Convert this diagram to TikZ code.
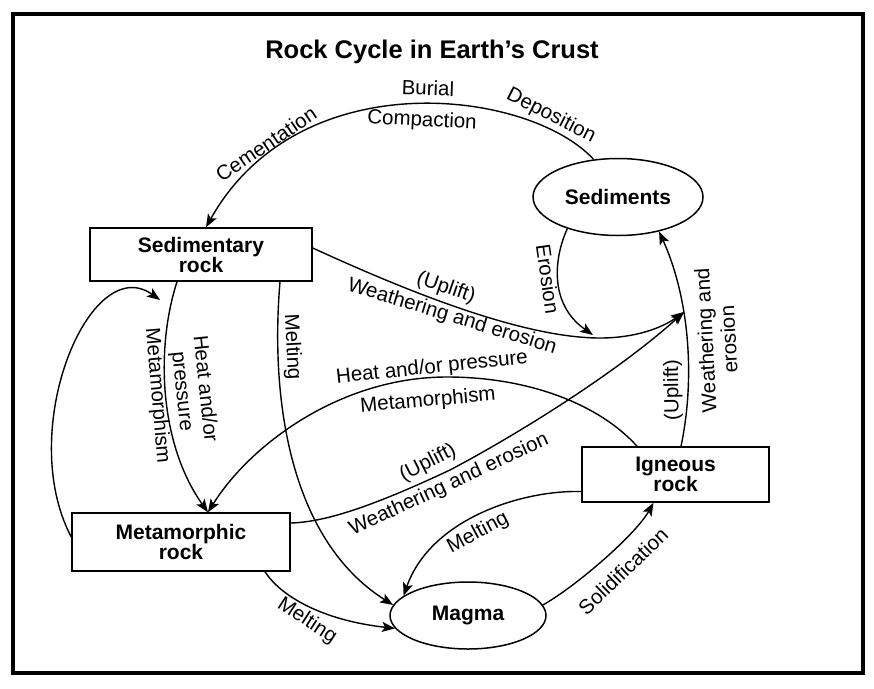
\documentclass[tikz,border=0pt]{standalone}
\usepackage{fontspec}
\setmainfont{Liberation Sans}
\usetikzlibrary{arrows.meta,shapes.geometric}
\begin{document}
\begin{tikzpicture}[x=1pt,y=-1pt,
  box/.style={draw,line width=1.5pt,rectangle,inner sep=0pt,align=center,font=\fontsize{21}{20}\selectfont\bfseries},
  oval/.style={draw,line width=1.5pt,ellipse,inner sep=0pt,font=\fontsize{21}{20}\selectfont\bfseries},
  lbl/.style={inner sep=0pt,align=center,font=\fontsize{20.5}{23}\selectfont},
  flow/.style={line width=1.4pt,-{Stealth[length=13pt,width=10pt,inset=3pt]}}]
\useasboundingbox (0,0) rectangle (874,688);
\draw[line width=4.5pt] (13,14) rectangle (863,673);
\node[font=\fontsize{25.5}{28}\selectfont\bfseries, anchor=base] (title) at (432,58) {Rock Cycle in Earth’s Crust};

% nodes
\node[box, minimum width=222pt, minimum height=53pt] (sedr) at (201,254.5) {Sedimentary\\rock};
\node[oval, minimum width=170pt, minimum height=77pt] (sedi) at (618,197) {Sediments};
\node[box, minimum width=218pt, minimum height=58pt] (meta) at (181,542) {Metamorphic\\rock};
\node[box, minimum width=187pt, minimum height=55pt] (ign) at (675.5,474.5) {Igneous\\rock};
\node[oval, minimum width=156pt, minimum height=67pt] (mag) at (468,615.5) {Magma};

\coordinate (j2) at (684,312);
\coordinate (loopend) at (160,300);

% Sediments -> Sedimentary rock
\draw[flow] (sedi.123) .. controls (530,90) and (300,60) .. ([xshift=5pt]sedr.north);
% Erosion
\draw[flow] (sedi.212) .. controls (553,260) and (550,305) .. (593,335);
% Sedimentary rock -> weathering
\draw[flow] ([yshift=6.5pt]sedr.east) .. controls (400,288) and (520,338) .. (600,338)
  .. controls (635,338) and (662,328) .. (j2);
% Metamorphic rock -> weathering
\draw[flow] ([yshift=19pt]meta.east) .. controls (322,522) and (365,510) .. (450,470)
  .. controls (522,432) and (620,370) .. (j2);
% Igneous -> Sediments
\draw[flow] ([xshift=5.5pt]ign.north) .. controls (695,380) and (690,300) .. (sedi.320);
% Sedimentary -> Metamorphic
\draw[flow] ([xshift=-24pt]sedr.south) .. controls (155,350) and (160,445) .. ([xshift=27pt]meta.north);
% Igneous -> Metamorphic
\draw[flow] ([xshift=-38.5pt]ign.north) .. controls (600,405) and (530,377) .. (447,377)
  .. controls (340,377) and (250,445) .. ([xshift=27pt]meta.north);
% Sedimentary -> Magma
\draw[flow] ([xshift=79pt]sedr.south) .. controls (270,400) and (290,540) .. (mag.172);
% Metamorphic -> Sedimentary (loop)
\draw[flow] ([yshift=5pt]meta.west) .. controls (15,430) and (90,250) .. (loopend);
% Metamorphic -> Magma
\draw[flow] ([xshift=84pt]meta.south) .. controls (280,595) and (320,620) .. (mag.190);
% Igneous -> Magma
\draw[flow] ([yshift=-17pt]ign.west) .. controls (520,490) and (430,520) .. (mag.163);
% Magma -> Igneous
\draw[flow] (mag.8) .. controls (578,585) and (636,534) .. ([xshift=-22pt]ign.south);

% labels
\node[lbl, rotate=34] (lcem) at (266,144) {Cementation};
\node[lbl, rotate=-2] (lbur) at (428,88) {Burial};
\node[lbl, rotate=-3] (lcom) at (422,121) {Compaction};
\node[lbl, rotate=-27] (ldep) at (551,116) {Deposition};
\node[lbl, rotate=-82] (lero) at (548,279) {Erosion};
\node[lbl, rotate=-19] (lup1) at (446,288) {(Uplift)};
\node[lbl, rotate=-17] (lwe1) at (452,317) {Weathering and erosion};
\node[lbl, rotate=91] (lup2) at (673,390) {(Uplift)};
\node[lbl, rotate=93] (lwe2) at (717,340) {Weathering and\\erosion};
\node[lbl, rotate=-85] (lmet1) at (157,396) {Metamorphism};
\node[lbl, rotate=-84] (lhp1) at (193,390) {Heat and/or\\pressure};
\node[lbl, rotate=-87] (lmel1) at (292,347) {Melting};
\node[lbl, rotate=6] (lhp2) at (432,368) {Heat and/or pressure};
\node[lbl, rotate=5] (lmet2) at (428,401) {Metamorphism};
\node[lbl, rotate=27] (lup3) at (428,463) {(Uplift)};
\node[lbl, rotate=25] (lwe3) at (449,485) {Weathering and erosion};
\node[lbl, rotate=28] (lmel2) at (478,533) {Melting};
\node[lbl, rotate=44] (lsol) at (623,571) {Solidification};
\node[lbl, rotate=-33] (lmel3) at (307,621) {Melting};
\end{tikzpicture}
\end{document}
